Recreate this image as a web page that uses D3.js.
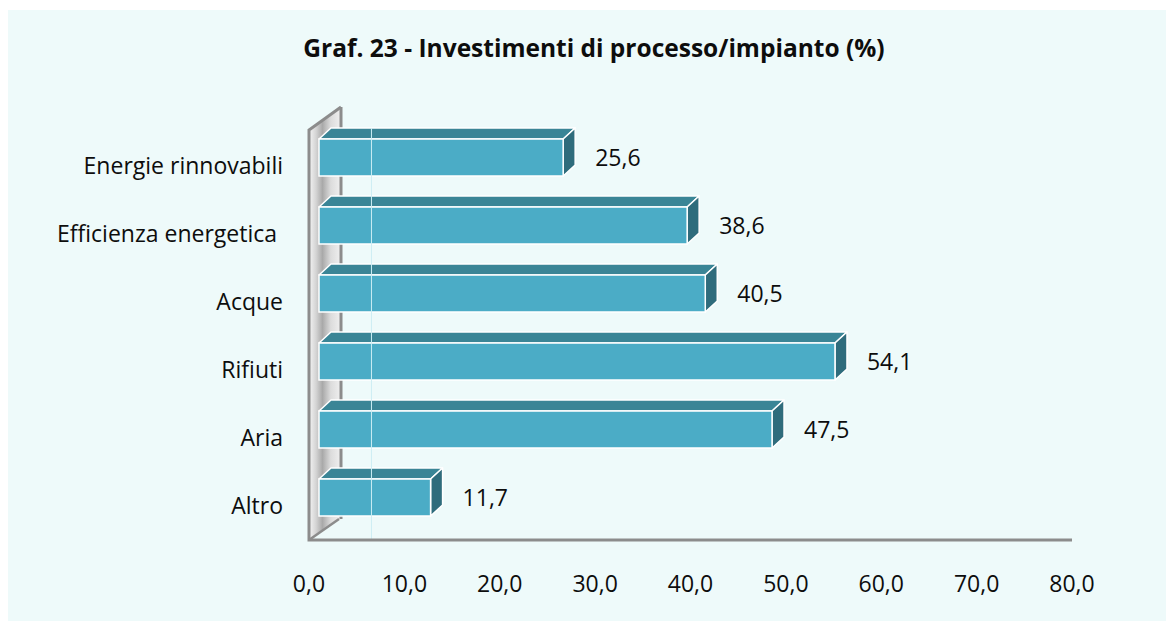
<!DOCTYPE html>
<html>
<head>
<meta charset="utf-8">
<script src="https://cdn.jsdelivr.net/npm/d3@7"></script>
<style>
  html, body { margin: 0; padding: 0; background: #ffffff; }
  text { font-family: "Open Sans", sans-serif; fill: #0d0d0d; }
</style>
</head>
<body>
<div id="chart-container"></div>
<script>
const categories = ["Energie rinnovabili", "Efficienza energetica ", "Acque", "Rifiuti", "Aria", "Altro"];
const values = [25.6, 38.6, 40.5, 54.1, 47.5, 11.7];
const tickValues = [0, 10, 20, 30, 40, 50, 60, 70, 80];
const title = "Graf. 23 - Investimenti di processo/impianto (%)";

const width = 1166, height = 621;
const fmt = v => d3.format(".1f")(v).replace(".", ",");

const svg = d3.select("#chart-container")
    .append("svg")
    .attr("width", width)
    .attr("height", height);

// panel
svg.append("rect")
    .attr("x", 8).attr("y", 10)
    .attr("width", width - 8).attr("height", height - 10)
    .attr("fill", "#eefafa");

const x = d3.scaleLinear().domain([0, 80]).range([309, 1072]);
const y = d3.scaleBand()
    .domain(categories)
    .range([123.5, 531.5])
    .paddingInner(0.456)
    .paddingOuter(0.228);

const floorY = 540, wallTop = 130;
const depth = {dx: 32, dy: -23};   // side wall depth
const barOff = 10;                  // bars sit a bit back from the front edge
const bd = {dx: 12, dy: -11};       // bar depth

// side wall gradient
const defs = svg.append("defs");
const grad = defs.append("linearGradient").attr("id", "wallGrad")
    .attr("x1", "0%").attr("x2", "100%").attr("y1", "0%").attr("y2", "0%");
[["0%", "#f4f4f4"], ["22%", "#d4d4d4"], ["42%", "#a9a9a9"], ["68%", "#dcdcdc"], ["100%", "#f0f0f0"]]
    .forEach(s => grad.append("stop").attr("offset", s[0]).attr("stop-color", s[1]));

const x0 = x(0);
svg.append("path")
    .attr("d", `M${x0},${wallTop} L${x0 + depth.dx},${wallTop + depth.dy} L${x0 + depth.dx},${floorY + depth.dy + 2} L${x0},${floorY} Z`)
    .attr("fill", "url(#wallGrad)");

// back edge of wall
svg.append("line")
    .attr("x1", x0 + depth.dx).attr("x2", x0 + depth.dx)
    .attr("y1", wallTop + depth.dy).attr("y2", floorY + depth.dy + 2)
    .attr("stroke", "#8c8c8c").attr("stroke-width", 3);

// bars
const bars = svg.append("g").selectAll("g")
    .data(values)
    .enter()
    .append("g");

bars.each(function(v, i) {
    const g = d3.select(this);
    const xl = x(0) + barOff, xr = x(v) + barOff;
    const yt = y(categories[i]), yb = yt + y.bandwidth();
    // top face
    g.append("path")
        .attr("d", `M${xl},${yt} L${xl + bd.dx},${yt + bd.dy} L${xr + bd.dx},${yt + bd.dy} L${xr},${yt} Z`)
        .attr("fill", "#3a8596").attr("stroke", "#ffffff").attr("stroke-width", 1.5)
        .attr("stroke-linejoin", "round");
    // right face
    g.append("path")
        .attr("d", `M${xr},${yt} L${xr + bd.dx},${yt + bd.dy} L${xr + bd.dx},${yb + bd.dy} L${xr},${yb} Z`)
        .attr("fill", "#2f6c7c").attr("stroke", "#ffffff").attr("stroke-width", 1.5)
        .attr("stroke-linejoin", "round");
    // front face
    g.append("rect")
        .attr("x", xl).attr("y", yt)
        .attr("width", xr - xl).attr("height", yb - yt)
        .attr("fill", "#4bacc6").attr("stroke", "#ffffff").attr("stroke-width", 1.5);
    // value label
    g.append("text")
        .attr("x", xr + bd.dx + 20)
        .attr("y", (yt + yb) / 2 + 8)
        .style("font-size", "23px")
        .text(fmt(v));
});

// faint stripe through the bars
svg.append("line")
    .attr("x1", x(5.5) + barOff).attr("x2", x(5.5) + barOff)
    .attr("y1", y(categories[0]) + bd.dy).attr("y2", floorY + 1)
    .attr("stroke", "#cdeef4").attr("stroke-width", 1);

// wall front edge, top edge, floor
const edge = "#8c8c8c";
svg.append("path")
    .attr("d", `M${x0 + depth.dx},${wallTop + depth.dy} L${x0},${wallTop} L${x0},${floorY} L${x(80)},${floorY}`)
    .attr("fill", "none").attr("stroke", edge).attr("stroke-width", 3);
svg.append("line")
    .attr("x1", x0).attr("y1", floorY)
    .attr("x2", x0 + depth.dx - 2).attr("y2", floorY + depth.dy + 2)
    .attr("stroke", edge).attr("stroke-width", 2.5);

// category labels
svg.append("g").selectAll("text")
    .data(categories)
    .enter()
    .append("text")
    .attr("x", 283)
    .attr("y", d => y(d) + y.bandwidth() / 2 + 16)
    .attr("text-anchor", "end")
    .style("white-space", "pre")
    .style("font-size", "23px")
    .text(d => d);

// tick labels
svg.append("g").selectAll("text")
    .data(tickValues)
    .enter()
    .append("text")
    .attr("x", d => x(d))
    .attr("y", 592)
    .attr("text-anchor", "middle")
    .style("font-size", "23px")
    .text(d => fmt(d));

// title
svg.append("text")
    .attr("x", 594)
    .attr("y", 57)
    .attr("text-anchor", "middle")
    .style("font-size", "24.5px")
    .style("font-weight", "bold")
    .text(title);
</script>
</body>
</html>
